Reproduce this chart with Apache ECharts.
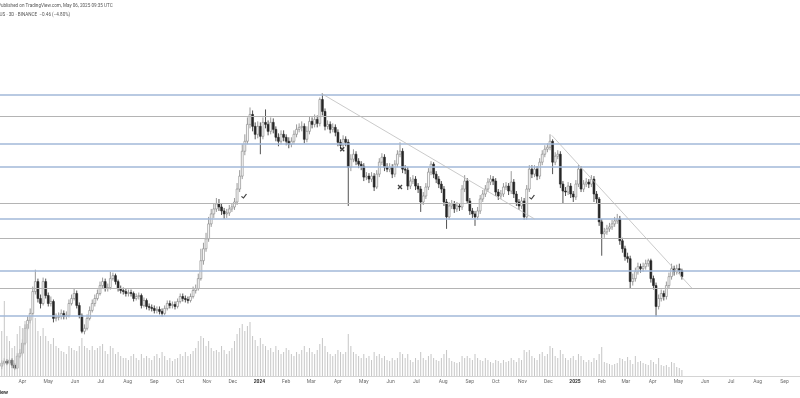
<!DOCTYPE html>
<html><head><meta charset="utf-8">
<script src="https://cdn.jsdelivr.net/npm/echarts@6/dist/echarts.min.js"></script>
<style>html,body{margin:0;padding:0;background:#fff;overflow:hidden}#c{width:800px;height:398px}</style>
</head><body><div id="c"></div>
<script>
// 3-day candles, first candle date and step
const firstCandle = '2023-03-08';
const candleStepDays = 3;

const openP = [3.2,3.5,3.7,3.5,3.8,3.3,3.0,4.2,4.5,5.5,7.0,7.8,
8.5,10.7,11.7,10.0,9.5,11.7,10.3,9.5,9.7,8.0,8.1,8.2,
8.5,8.2,8.3,9.5,10.0,10.5,9.3,8.3,6.7,7.0,8.0,8.8,
9.5,10.0,10.5,11.3,11.7,11.0,11.1,12.0,12.3,11.7,11.0,10.8,
10.7,10.5,10.6,10.5,10.0,10.2,10.3,9.3,9.8,9.2,9.1,9.0,
8.8,8.9,8.7,8.5,9.0,9.5,9.3,9.4,9.2,9.7,10.2,10.0,
9.9,9.8,10.2,10.8,11.0,12.0,13.8,15.0,16.0,17.5,18.5,19.0,
19.5,19.2,18.8,18.5,18.6,19.0,19.2,19.7,21.0,22.3,24.8,25.8,
27.5,28.5,27.3,26.5,27.3,26.3,27.7,27.5,26.8,27.7,27.0,26.2,
25.8,26.5,26.2,25.8,25.5,25.8,26.5,27.0,27.2,27.3,26.0,26.8,
27.8,27.5,28.0,27.6,30.0,28.8,27.3,27.5,27.0,27.2,26.7,25.7,
25.4,26.0,25.7,23.2,24.0,24.5,23.8,23.5,23.3,22.2,22.3,22.0,
22.3,21.2,22.5,23.7,24.2,23.2,23.0,23.2,22.5,23.5,24.5,24.8,
23.0,22.9,21.3,21.8,22.0,21.3,21.0,19.7,20.3,21.2,22.7,23.5,
22.5,22.0,21.5,21.0,19.7,18.2,19.3,19.5,19.0,19.3,19.2,21.0,
21.8,19.8,18.8,18.5,18.2,18.8,20.0,20.5,21.0,21.7,22.0,21.8,
20.7,20.3,20.5,21.2,21.3,20.8,21.7,20.5,19.7,19.3,19.8,18.2,
21.0,23.0,22.5,23.0,22.3,23.7,24.5,25.0,25.2,25.8,23.7,24.3,
24.5,21.5,20.8,20.7,21.3,20.5,20.2,21.5,23.0,21.0,21.5,21.7,
21.5,22.0,20.5,20.0,17.7,16.5,16.7,17.0,17.2,17.5,17.8,18.0,
15.8,15.0,14.2,14.0,11.7,12.0,12.7,13.2,13.0,13.2,13.5,13.8,
12.0,11.3,9.2,10.0,10.5,10.2,11.3,12.2,13.0,12.7,13.0,12.8];

const closeP = [3.5,3.7,3.5,3.8,3.3,3.0,4.2,4.5,5.5,7.0,7.8,8.5,
10.7,11.7,10.0,9.5,11.7,10.3,9.5,9.7,8.0,8.1,8.2,8.5,
8.2,8.3,9.5,10.0,10.5,9.3,8.3,6.7,7.0,8.0,8.8,9.5,
10.0,10.5,11.3,11.7,11.0,11.1,12.0,12.3,11.7,11.0,10.8,10.7,
10.5,10.6,10.5,10.0,10.2,10.3,9.3,9.8,9.2,9.1,9.0,8.8,
8.9,8.7,8.5,9.0,9.5,9.3,9.4,9.2,9.7,10.2,10.0,9.9,
9.8,10.2,10.8,11.0,12.0,13.8,15.0,16.0,17.5,18.5,19.0,19.5,
19.2,18.8,18.5,18.6,19.0,19.2,19.7,21.0,22.3,24.8,25.8,27.5,
28.5,27.3,26.5,27.3,26.3,27.7,27.5,26.8,27.7,27.0,26.2,25.8,
26.5,26.2,25.8,25.5,25.8,26.5,27.0,27.2,27.3,26.0,26.8,27.8,
27.5,28.0,27.6,30.0,28.8,27.3,27.5,27.0,27.2,26.7,25.7,25.4,
26.0,25.7,23.2,24.0,24.5,23.8,23.5,23.3,22.2,22.3,22.0,22.3,
21.2,22.5,23.7,24.2,23.2,23.0,23.2,22.5,23.5,24.5,24.8,23.0,
22.9,21.3,21.8,22.0,21.3,21.0,19.7,20.3,21.2,22.7,23.5,22.5,
22.0,21.5,21.0,19.7,18.2,19.3,19.5,19.0,19.3,19.2,21.0,21.8,
19.8,18.8,18.5,18.2,18.8,20.0,20.5,21.0,21.7,22.0,21.8,20.7,
20.3,20.5,21.2,21.3,20.8,21.7,20.5,19.7,19.3,19.8,18.2,21.0,
23.0,22.5,23.0,22.3,23.7,24.5,25.0,25.2,25.8,23.7,24.3,24.5,
21.5,20.8,20.7,21.3,20.5,20.2,21.5,23.0,21.0,21.5,21.7,21.5,
22.0,20.5,20.0,17.7,16.5,16.7,17.0,17.2,17.5,17.8,18.0,15.8,
15.0,14.2,14.0,11.7,12.0,12.7,13.2,13.0,13.2,13.5,13.8,12.0,
11.3,9.2,10.0,10.5,10.2,11.3,12.2,13.0,12.7,13.0,12.8,12.2];

const highP = [3.8,4.0,3.9,4.1,4.0,3.5,4.5,4.9,5.9,7.4,8.2,9.0,
11.2,12.9,12.0,10.4,12.1,12.0,10.6,10.2,9.9,8.5,8.6,8.9,
8.8,8.7,9.9,10.4,11.0,10.8,9.6,8.5,7.4,8.4,9.2,9.9,
10.4,10.9,11.7,12.1,12.0,11.5,12.7,12.6,12.5,11.9,11.3,11.1,
11.0,10.9,10.9,10.7,10.5,10.6,10.5,10.1,10.0,9.5,9.4,9.3,
9.2,9.2,9.0,9.3,9.8,9.8,9.7,9.7,10.0,10.5,10.5,10.3,
10.2,10.5,11.2,11.4,12.5,15.0,15.6,16.6,18.2,19.0,19.6,20.1,
20.0,19.6,19.1,19.0,19.4,19.6,20.1,21.6,22.9,25.5,26.5,28.2,
29.2,28.9,27.7,27.8,27.7,28.2,29.0,27.9,28.2,28.1,27.3,26.6,
26.9,26.9,26.5,26.2,26.2,26.9,27.5,27.6,27.8,27.6,27.3,28.3,
28.2,28.5,28.4,30.2,30.6,29.1,27.9,27.8,27.6,27.5,27.0,26.0,
26.4,26.3,26.0,24.5,25.0,24.8,24.1,23.8,23.6,22.7,22.6,22.7,
22.6,22.9,24.1,24.6,24.5,23.6,23.6,23.5,23.9,24.9,25.7,25.1,
23.4,23.2,22.2,22.4,22.3,21.6,21.3,20.7,21.6,23.1,23.8,23.7,
22.8,22.3,21.8,21.3,20.0,19.7,19.9,19.8,19.7,19.6,21.4,22.4,
22.1,20.1,19.1,18.8,19.2,20.4,20.9,21.4,22.1,22.4,22.3,22.1,
21.0,20.9,21.6,21.7,21.6,22.8,22.0,20.8,20.0,20.2,20.1,21.4,
23.4,23.4,23.4,23.3,24.1,24.9,25.4,25.6,26.5,26.0,24.7,24.9,
24.8,21.8,21.2,21.7,21.6,20.8,21.9,23.4,23.3,21.9,22.1,22.0,
22.4,22.3,20.8,20.2,18.0,17.1,17.4,17.6,17.9,18.2,18.5,18.3,
16.1,15.3,14.6,14.3,12.5,13.1,13.6,13.5,13.6,13.9,14.0,14.0,
12.3,11.6,10.4,10.9,10.8,11.7,12.6,13.5,13.3,13.4,13.5,13.0];

const lowP = [2.9,3.3,3.3,3.3,3.0,2.8,2.9,4.0,4.3,5.3,6.8,7.5,
8.3,10.4,9.6,9.0,9.3,10.0,9.2,9.2,7.6,7.7,7.8,7.9,
7.9,7.9,8.1,9.3,9.8,9.0,8.0,6.5,6.4,6.8,7.8,8.6,
9.2,9.8,10.3,11.0,10.7,10.7,10.9,11.8,11.4,10.7,10.5,10.4,
10.2,10.2,10.2,9.7,9.8,9.9,9.0,9.1,8.9,8.8,8.7,8.5,
8.5,8.4,8.2,8.3,8.8,9.0,9.0,8.9,9.0,9.5,9.7,9.6,
9.5,9.6,10.0,10.5,10.8,11.8,13.4,14.7,15.7,17.2,18.1,18.7,
18.8,18.4,18.0,18.1,18.3,18.7,18.9,19.4,20.7,22.0,24.4,25.5,
27.1,26.8,26.0,26.1,24.5,26.0,27.1,26.4,26.5,26.6,25.8,25.3,
25.5,25.8,25.4,25.1,25.2,25.5,26.2,26.7,26.8,25.6,25.7,26.5,
27.1,27.2,27.2,27.3,28.4,26.9,27.0,26.6,26.7,26.3,25.3,25.0,
25.1,25.3,19.3,22.8,23.7,23.4,23.1,22.9,21.8,21.9,21.6,21.7,
20.8,21.0,22.2,23.4,22.8,22.7,22.7,22.1,22.2,23.2,24.2,22.6,
22.5,20.9,21.0,21.5,20.9,20.6,18.7,19.4,20.0,20.9,22.4,22.1,
21.6,21.1,20.6,19.3,17.0,17.9,19.0,18.6,18.7,18.8,18.9,20.7,
19.5,18.4,18.1,17.3,17.9,18.5,19.7,20.2,20.7,21.4,21.4,20.3,
19.9,20.0,20.2,20.9,20.4,20.5,20.1,19.3,18.9,19.0,17.9,17.9,
20.7,22.1,22.2,21.9,22.0,23.4,24.2,24.7,24.9,22.5,23.4,24.0,
21.1,19.5,20.3,20.4,20.1,19.7,19.9,21.2,20.7,20.7,21.2,21.1,
21.2,19.7,19.6,17.3,14.3,16.1,16.4,16.7,16.9,17.2,17.5,15.4,
14.6,13.8,13.6,11.0,11.3,11.7,12.4,12.6,12.7,12.9,13.2,11.6,
10.9,8.2,8.9,9.7,9.8,9.9,11.0,11.9,12.3,12.4,12.5,11.9];

const volume = [45,75,40,35,28,30,42,50,48,55,52,60,
62,58,45,40,48,40,35,32,38,30,28,25,
24,22,30,28,26,25,30,38,30,28,26,30,
26,28,30,32,25,22,30,28,22,24,20,18,
18,16,20,22,18,16,22,18,20,18,16,20,
22,18,24,20,16,18,15,17,18,22,20,24,
20,22,25,28,35,40,38,30,35,28,25,26,
24,30,26,22,25,28,35,42,48,52,45,50,
54,40,36,30,38,32,30,26,28,24,30,26,
22,24,28,26,22,20,24,22,26,30,24,28,
24,22,26,32,38,30,24,22,20,22,26,24,
22,24,42,30,24,22,20,18,22,18,20,16,
24,20,22,18,20,16,15,18,16,18,24,22,
18,22,16,14,18,16,24,18,16,20,22,18,
16,15,18,22,26,18,15,14,13,14,20,18,
20,18,16,22,18,16,15,18,16,14,13,16,
15,13,16,14,15,18,16,14,18,16,26,24,
26,20,18,16,22,24,20,22,30,28,20,18,
26,22,18,16,18,20,16,22,20,16,14,16,
14,18,16,22,29,14,13,12,11,12,13,18,
17,15,19,16,12,20,14,15,13,12,11,16,
14,12,18,11,10,11,9,14,13,9,8,6];

// horizontal levels
const levelsBlue = [30.5, 25.6, 23.2, 18.0, 12.75, 8.3];
const levelsGrey = [28.3, 19.6, 16.1, 11.0];
// trend lines
const trendStart = [['2024-03-13', 30.6], ['2024-12-05', 26.4]];
const trendEnd = [['2024-11-15', 18.0], ['2025-05-17', 11.0]];
// signal marks
const crossMarks = [['2024-04-06', 25.0], ['2024-06-12', 21.2]];
const checkMarks = [['2023-12-14', 20.3], ['2024-11-12', 20.2]];
// month ticks
const monthTicks = ['2023-03-01','2023-04-01','2023-05-01','2023-06-01','2023-07-01','2023-08-01','2023-09-01','2023-10-01','2023-11-01','2023-12-01',
'2024-01-01','2024-02-01','2024-03-01','2024-04-01','2024-05-01','2024-06-01','2024-07-01','2024-08-01','2024-09-01','2024-10-01','2024-11-01','2024-12-01',
'2025-01-01','2025-02-01','2025-03-01','2025-04-01','2025-05-01','2025-06-01','2025-07-01','2025-08-01','2025-09-01'];
const monthLabels = ['Mar','Apr','May','Jun','Jul','Aug','Sep','Oct','Nov','Dec',
'2024','Feb','Mar','Apr','May','Jun','Jul','Aug','Sep','Oct','Nov','Dec',
'2025','Feb','Mar','Apr','May','Jun','Jul','Aug','Sep'];

const DAY = 864e5;
const t0 = Date.parse(firstCandle);
const times = openP.map((_, i) => t0 + i * candleStepDays * DAY);
const candleData = times.map((t, i) => [t, openP[i], closeP[i], lowP[i], highP[i]]);
const volData = times.map((t, i) => [t, volume[i]]);
const xMin = Date.parse('2023-03-06');
const xMax = Date.parse('2025-09-19');
const tickTs = monthTicks.map(d => Date.parse(d)).filter(t => t >= xMin && t <= xMax);
const labelMap = new Map(monthTicks.map((d, i) => [Date.parse(d), monthLabels[i]]));

function renderCandle(params, api) {
  const t = api.value(0), o = api.value(1), c = api.value(2), l = api.value(3), h = api.value(4);
  const po = api.coord([t, o]), pc = api.coord([t, c]), pl = api.coord([t, l]), ph = api.coord([t, h]);
  const x = po[0];
  const w = 1.9;
  const up = c >= o;
  const top = Math.min(po[1], pc[1]);
  const hgt = Math.max(Math.abs(po[1] - pc[1]), 0.8);
  const col = up ? '#808080' : '#262626';
  return {type: 'group', children: [
    {type: 'line', shape: {x1: x, y1: ph[1], x2: x, y2: pl[1]}, style: {stroke: col, lineWidth: 0.8}},
    {type: 'rect', shape: {x: x - w / 2, y: top, width: w, height: hgt},
     style: {fill: up ? '#ffffff' : '#262626', stroke: col, lineWidth: 0.6}}
  ]};
}

const blueStyle = {color: '#a2b8d9', width: 1.5, type: 'solid'};
const greyStyle = {color: '#b4b4b4', width: 1, type: 'solid'};
const markLineData = [
  ...levelsBlue.map(v => ({yAxis: v, lineStyle: blueStyle})),
  ...levelsGrey.map(v => ({yAxis: v, lineStyle: greyStyle})),
  ...trendStart.map((s, i) => [
    {coord: [Date.parse(s[0]), s[1]], lineStyle: {color: '#bdbdbd', width: 0.8, type: 'solid'}},
    {coord: [Date.parse(trendEnd[i][0]), trendEnd[i][1]]}
  ])
];

const chart = echarts.init(document.getElementById('c'), null, {renderer: 'canvas'});
chart.setOption({
  animation: false,
  backgroundColor: '#ffffff',
  textStyle: {fontFamily: 'Roboto, "Noto Sans", sans-serif'},
  grid: [
    {left: 0, right: 0, top: 0, height: 400},
    {left: 0, right: 0, top: 300, height: 76}
  ],
  xAxis: [
    {type: 'value', gridIndex: 0, min: xMin, max: xMax, show: false, splitLine: {show: false}},
    {type: 'value', gridIndex: 1, min: xMin, max: xMax,
     axisLine: {show: true, lineStyle: {color: '#d4d4d4', width: 1}},
     axisTick: {show: false}, splitLine: {show: false},
     axisLabel: {
       customValues: tickTs, hideOverlap: false, margin: 3, fontSize: 5, color: '#6a6a6a',
       formatter: v => {
         const s = labelMap.get(v) || '';
         return /^\d{4}$/.test(s) ? '{b|' + s + '}' : s;
       },
       rich: {b: {fontSize: 5, fontWeight: 'bold', color: '#333'}}
     }}
  ],
  yAxis: [
    {type: 'value', gridIndex: 0, min: 0, max: 40, show: false, splitLine: {show: false}},
    {type: 'value', gridIndex: 1, min: 0, max: 76, show: false, splitLine: {show: false}}
  ],
  series: [
    {type: 'bar', xAxisIndex: 1, yAxisIndex: 1, data: volData, barWidth: 1,
     itemStyle: {color: '#c6c6c6'}, silent: true},
    {type: 'line', xAxisIndex: 0, yAxisIndex: 0, data: [], silent: true,
     markLine: {symbol: 'none', silent: true, label: {show: false}, animation: false, data: markLineData}},
    {type: 'custom', xAxisIndex: 0, yAxisIndex: 0, renderItem: renderCandle, data: candleData,
     encode: {x: 0, y: [1, 2, 3, 4]}, silent: true, clip: false},
    {type: 'scatter', xAxisIndex: 0, yAxisIndex: 0, silent: true,
     data: crossMarks.map(m => [Date.parse(m[0]), m[1]]),
     symbol: 'path://M0,0L10,10M10,0L0,10', symbolSize: 4,
     itemStyle: {color: 'none', borderColor: '#111', borderWidth: 1.3}},
    {type: 'scatter', xAxisIndex: 0, yAxisIndex: 0, silent: true,
     data: checkMarks.map(m => [Date.parse(m[0]), m[1]]),
     symbol: 'path://M0,6L4,10L10,0', symbolSize: [5, 4],
     itemStyle: {color: 'none', borderColor: '#111', borderWidth: 1.1}}
  ],
  graphic: [
    {type: 'text', x: -2, y: 3, style: {text: 'Published on TradingView.com, May 06, 2025 09:35 UTC', fontSize: 4.6, fill: '#555', fontFamily: 'Roboto, sans-serif'}},
    {type: 'text', x: -3, y: 12.5, style: {text: 'JUS · 3D · BINANCE  −0.46 (−4.80%)', fontSize: 4.6, fill: '#555', fontFamily: 'Roboto, sans-serif'}},
    {type: 'text', x: -4, y: 389.5, style: {text: 'View', fontSize: 5.5, fontWeight: 'bold', fill: '#333', fontFamily: 'Roboto, sans-serif'}}
  ]
});
</script>
</body></html>
